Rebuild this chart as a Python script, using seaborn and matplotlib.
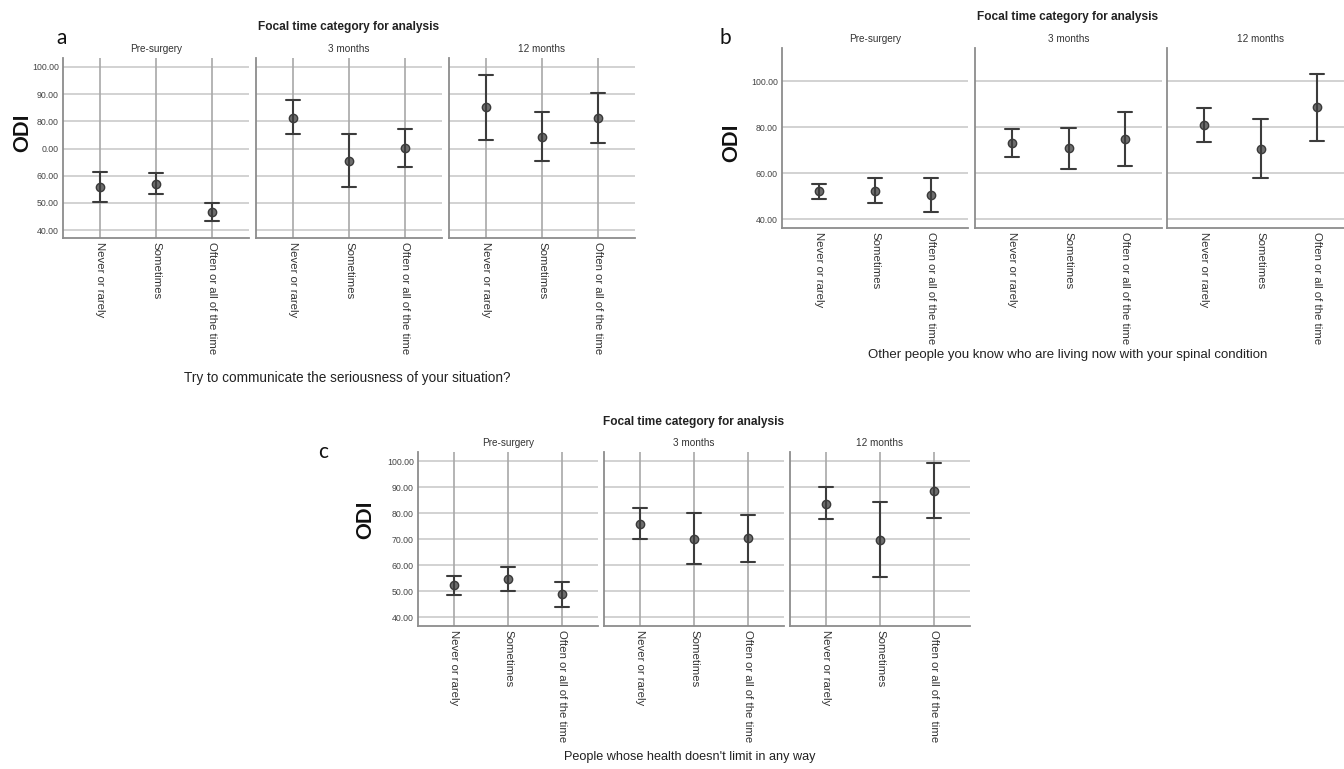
import numpy as np
import pandas as pd
import matplotlib
matplotlib.use("Agg")
import matplotlib.pyplot as plt
import seaborn as sns

# ---------------- data ----------------
categories = ["Never or rarely", "Sometimes", "Often or all of the time"]
times = ["Pre-surgery", "3 months", "12 months"]

# panel a: Try to communicate the seriousness of your situation?
a_mean = [55.7, 56.9, 46.6, 81.4, 65.6, 70.3, 85.2, 74.2, 81.1]
a_low = [50.2, 53.1, 43.4, 75.2, 55.8, 63.3, 73.1, 65.3, 71.9]
a_high = [61.2, 61.0, 50.0, 87.8, 75.2, 77.2, 97.2, 83.4, 90.3]

# panel b: Other people you know who are living now with your spinal condition
b_mean = [52.2, 52.3, 50.4, 73.3, 70.9, 74.9, 81.0, 70.6, 88.7]
b_low = [48.8, 46.8, 43.2, 67.2, 61.9, 63.1, 73.7, 57.8, 74.0]
b_high = [55.2, 57.8, 57.8, 79.4, 79.8, 86.8, 88.3, 83.6, 103.0]

# panel c: People whose health doesn't limit in any way
c_mean = [52.3, 54.8, 48.8, 75.9, 70.0, 70.3, 83.6, 69.6, 88.6]
c_low = [48.6, 50.2, 44.1, 70.0, 60.4, 61.4, 77.6, 55.3, 78.0]
c_high = [55.8, 59.5, 53.4, 81.9, 80.1, 79.2, 89.9, 84.1, 99.4]

a_ticks = [40, 50, 60, 70, 80, 90, 100]
a_ticklabels = ["40.00", "50.00", "60.00", "0.00", "80.00", "90.00", "100.00"]
b_ticks = [40, 60, 80, 100]
b_ticklabels = ["40.00", "60.00", "80.00", "100.00"]
c_ticks = [40, 50, 60, 70, 80, 90, 100]
c_ticklabels = ["40.00", "50.00", "60.00", "70.00", "80.00", "90.00", "100.00"]

suptitle = "Focal time category for analysis"
a_xlabel = "Try to communicate the seriousness of your situation?"
b_xlabel = "Other people you know who are living now with your spinal condition"
c_xlabel = "People whose health doesn't limit in any way"

# ---------------- style ----------------
sns.set_theme(style="white")
plt.rcParams["font.family"] = ["Liberation Sans", "DejaVu Sans"]

W, H = 1344, 769
fig = plt.figure(figsize=(W / 100, H / 100), dpi=100)
fig.patch.set_facecolor("white")


def rect(x0, x1, ytop, ybot):
    return [x0 / W, 1 - ybot / H, (x1 - x0) / W, (ybot - ytop) / H]


def long_df(mean, low, high):
    rows = []
    for i, t in enumerate(times):
        for j, c in enumerate(categories):
            k = i * 3 + j
            for v in (low[k], mean[k], high[k]):
                rows.append({"time": t, "cat": c, "val": v})
    return pd.DataFrame(rows)


def panel(df, facets, ytop, ybot, ylim, ticks, ticklabels, vgrid,
          letter, letter_xy, title_y, odi_xy, xlabel, xlabel_xy, xlabel_fs):
    axes = []
    for i, (t, (x0, x1)) in enumerate(zip(times, facets)):
        ax = fig.add_axes(rect(x0, x1, ytop, ybot))
        sub = df[df["time"] == t]
        sns.pointplot(data=sub, x="cat", y="val", order=categories,
                      estimator="median",
                      errorbar=lambda v: (v.min(), v.max()),
                      capsize=0.26, linestyle="none", marker="o",
                      color="#444444", markersize=6,
                      markerfacecolor="#6e6e6e", markeredgecolor="#3a3a3a",
                      markeredgewidth=1.0,
                      err_kws={"linewidth": 1.5, "color": "#3c3c3c"},
                      ax=ax)
        ax.set_xlim(-0.66, 2.66)
        ax.set_ylim(*ylim)
        ax.set_yticks(ticks)
        ax.set_axisbelow(True)
        for y in ticks:
            ax.axhline(y, color="#cfcfcf", lw=1.3, zorder=0)
        if vgrid:
            for xx in range(3):
                ax.axvline(xx, color="#a8a8a8", lw=1.2, zorder=0)
        ax.set_xlabel("")
        ax.set_ylabel("")
        for s in ["top", "right"]:
            ax.spines[s].set_visible(False)
        for s in ["left", "bottom"]:
            ax.spines[s].set_color("#8c8c8c")
            ax.spines[s].set_linewidth(1.3)
        ax.tick_params(axis="both", length=0)
        ax.set_xticks(range(3))
        ax.set_xticklabels(categories, rotation=270, ha="center", va="top",
                           fontsize=8.2, color="#333333")
        ax.tick_params(axis="x", pad=3)
        if i == 0:
            ax.set_yticklabels(ticklabels, fontsize=6.3, color="#444444")
            ax.tick_params(axis="y", pad=3)
        else:
            ax.set_yticklabels([])
        ax.set_title(t, fontsize=7.2, color="#333333", pad=4)
        axes.append(ax)
    cx = (facets[0][0] + facets[2][1]) / 2
    fig.text(cx / W, 1 - title_y / H, suptitle, ha="center", va="center",
             fontsize=8.6, fontweight="bold", color="#222222")
    fig.text(letter_xy[0] / W, 1 - letter_xy[1] / H, letter, ha="center",
             va="center", fontsize=15, family=["Lato", "DejaVu Sans"],
             color="#111111")
    fig.text(odi_xy[0] / W, 1 - odi_xy[1] / H, "ODI", ha="center",
             va="center", rotation=90, fontsize=15, fontweight="bold",
             family=["Lato", "DejaVu Sans"], color="#111111")
    fig.text(xlabel_xy[0] / W, 1 - xlabel_xy[1] / H, xlabel, ha="center",
             va="center", fontsize=xlabel_fs, color="#222222")
    return axes


panel(long_df(a_mean, a_low, a_high),
      [(63, 249), (256, 442), (449, 635)], 58, 238, (37.1, 103.3),
      a_ticks, a_ticklabels, True, "a", (62, 38), 27, (22, 133),
      a_xlabel, (347, 378), 9.8)

panel(long_df(b_mean, b_low, b_high),
      [(782, 968), (975, 1162), (1167, 1354)], 48, 228, (36.1, 114.5),
      b_ticks, b_ticklabels, False, "b", (725, 38), 17, (731, 143),
      b_xlabel, (1068, 355), 9.5)

panel(long_df(c_mean, c_low, c_high),
      [(418, 598), (604, 784), (790, 970)], 452, 626, (36.65, 103.5),
      c_ticks, c_ticklabels, True, "c", (323, 452), 422, (365, 520),
      c_xlabel, (690, 757), 9.1)

fig.savefig("out.png", dpi=100, facecolor="white")
